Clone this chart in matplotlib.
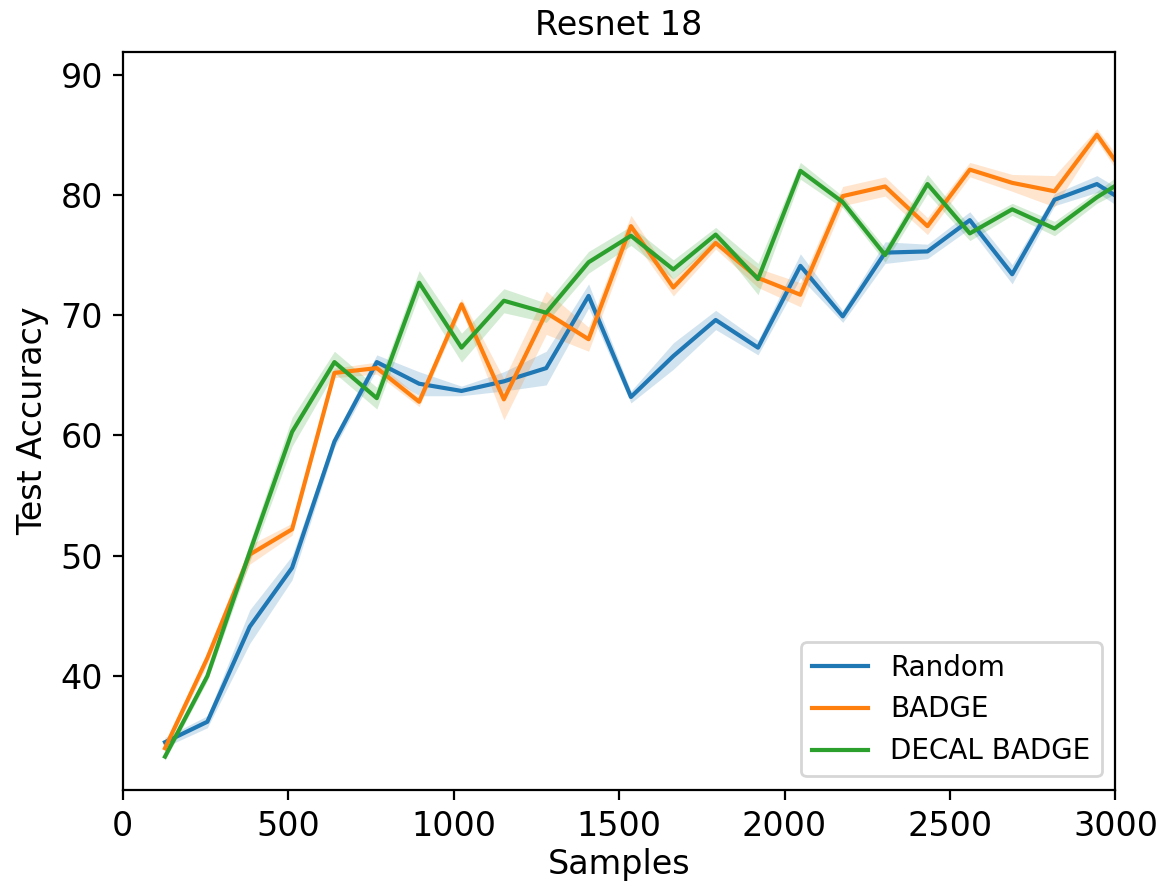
import matplotlib
matplotlib.use("Agg")
import matplotlib.pyplot as plt
import numpy as np

# samples labelled per round (128 per round)
samples = [128, 256, 384, 512, 640, 768, 896, 1024, 1152, 1280, 1408, 1536,
           1664, 1792, 1920, 2048, 2176, 2304, 2432, 2560, 2688, 2816, 2944, 3072]

random_acc = [34.5, 36.2, 44.1, 49.0, 59.5, 66.1, 64.3, 63.7, 64.5, 65.6, 71.6, 63.2,
              66.6, 69.6, 67.3, 74.1, 69.9, 75.2, 75.3, 77.9, 73.4, 79.6, 80.9, 78.7]
random_err = [0.4, 0.5, 1.4, 1.0, 0.5, 0.6, 1.0, 0.4, 0.8, 1.4, 1.0, 0.5,
              1.1, 0.8, 0.6, 1.0, 0.5, 0.9, 0.6, 0.7, 0.8, 0.5, 0.7, 0.8]

badge_acc = [34.0, 41.5, 50.1, 52.2, 65.2, 65.6, 62.8, 70.9, 63.0, 70.2, 68.0, 77.4,
             72.3, 76.0, 73.1, 71.7, 79.9, 80.7, 77.4, 82.1, 81.0, 80.3, 85.0, 80.0]
badge_err = [0.3, 0.5, 0.8, 0.5, 0.4, 0.5, 0.4, 0.5, 1.7, 1.8, 1.0, 0.9,
             0.7, 0.5, 0.8, 1.0, 0.8, 0.8, 0.7, 0.6, 0.7, 1.3, 0.5, 0.8]

decal_acc = [33.3, 40.0, 50.3, 60.3, 66.1, 63.1, 72.7, 67.3, 71.2, 70.2, 74.4, 76.6,
             73.8, 76.7, 73.0, 82.0, 79.4, 75.0, 80.9, 76.8, 78.8, 77.2, 79.8, 82.0]
decal_err = [0.3, 0.4, 0.8, 1.2, 0.9, 0.9, 1.0, 1.2, 1.0, 0.8, 0.9, 0.8,
             0.8, 0.6, 1.3, 0.7, 0.5, 0.6, 0.8, 0.6, 0.5, 0.6, 0.5, 0.9]

labels = ["Random", "BADGE", "DECAL BADGE"]
colors = ["#1f77b4", "#ff7f0e", "#2ca02c"]

fig = plt.figure(figsize=(5.84, 4.46), dpi=200)
ax = fig.add_axes([0.105, 0.114, 0.85, 0.828])

x = np.array(samples)
for acc, err, lab, c in zip([random_acc, badge_acc, decal_acc],
                            [random_err, badge_err, decal_err], labels, colors):
    acc = np.array(acc)
    err = np.array(err)
    ax.fill_between(x, acc - err, acc + err, color=c, alpha=0.2, linewidth=0)
    ax.plot(x, acc, color=c, linewidth=1.5, label=lab)

ax.set_xlim(0, 3000)
ax.set_ylim(30.5, 91.9)
ax.set_yticks([40, 50, 60, 70, 80, 90])
ax.tick_params(labelsize=12)
ax.set_xlabel("Samples", fontsize=12, labelpad=2)
ax.set_ylabel("Test Accuracy", fontsize=12)
ax.set_title("Resnet 18", fontsize=12)
ax.legend(loc="lower right", fontsize=10)

fig.savefig("out.png", dpi=200)
